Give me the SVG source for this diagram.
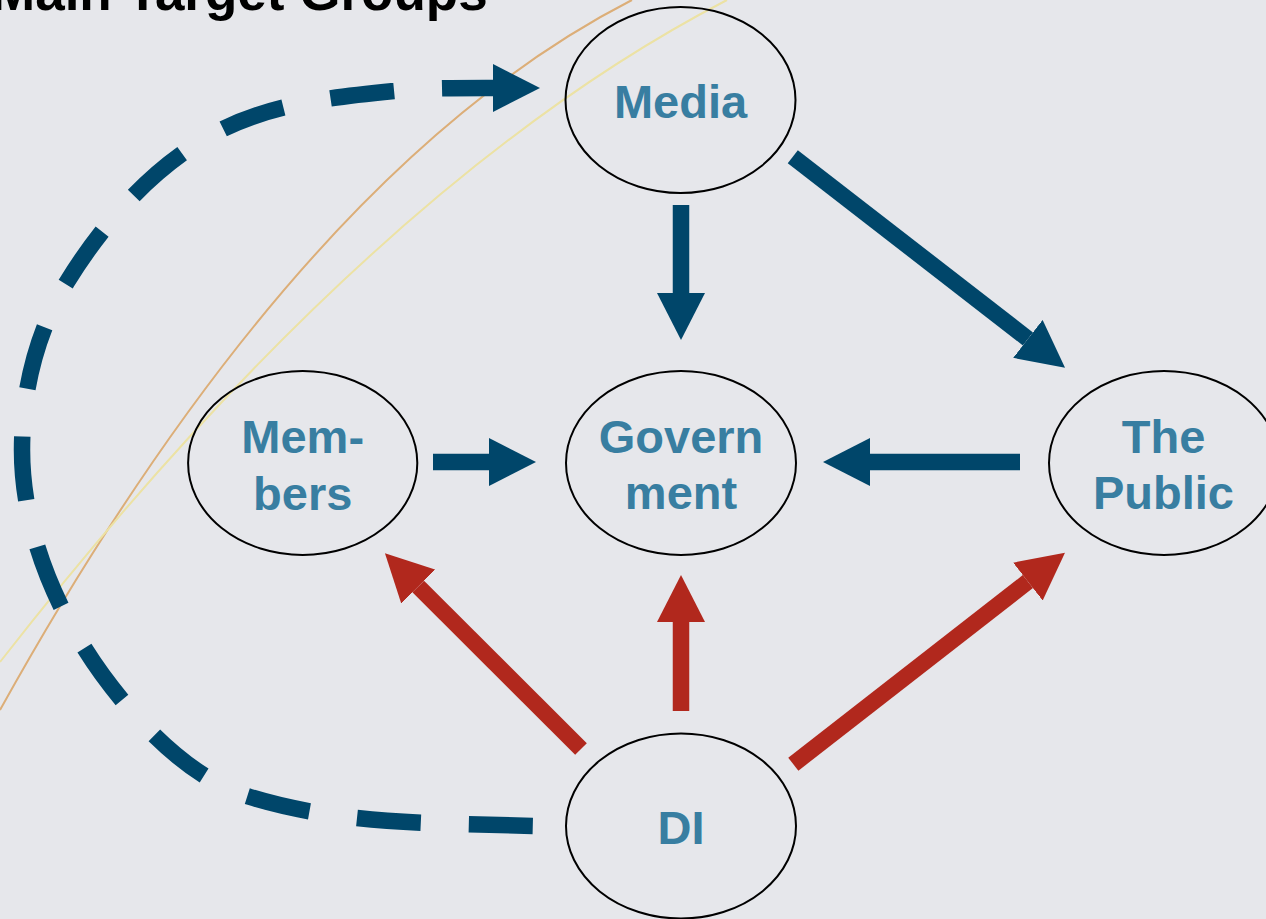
<svg xmlns="http://www.w3.org/2000/svg" width="1266" height="919" viewBox="0 0 1266 919">
  <style>
    .node ellipse { fill: none; stroke: #000; stroke-width: 2; }
    .node text { font-family: "Liberation Sans", Arial, sans-serif; font-weight: bold; font-size: 47px; fill: #387ea1; text-anchor: middle; }
    .title { font-family: "Liberation Sans", Arial, sans-serif; font-weight: bold; font-size: 53px; fill: #000; }
    .blue { stroke: #00466a; stroke-width: 16.5; fill: none; }
    .red { stroke: #b1281d; stroke-width: 16.5; fill: none; }
    .arc { fill: none; stroke-width: 2; }
  </style>
  <defs>
    <marker id="headBlue" markerUnits="userSpaceOnUse" viewBox="0 0 47 48" markerWidth="47" markerHeight="48" refX="0" refY="24" orient="auto-start-reverse">
      <path d="M0,0 L47,24 L0,48 Z" fill="#00466a"/>
    </marker>
    <marker id="headRed" markerUnits="userSpaceOnUse" viewBox="0 0 47 48" markerWidth="47" markerHeight="48" refX="0" refY="24" orient="auto">
      <path d="M0,0 L47,24 L0,48 Z" fill="#b1281d"/>
    </marker>
    <filter id="soft" x="-5%" y="-5%" width="110%" height="110%">
      <feGaussianBlur stdDeviation="0.6"/>
    </filter>
  </defs>

  <!-- background -->
  <rect x="0" y="0" width="1266" height="919" fill="#e6e7eb"/>

  <!-- decorative background arcs -->
  <g id="decor" filter="url(#soft)">
    <path class="arc" d="M632,0 Q300,170 0,710" stroke="#dcae78"/>
    <path class="arc" d="M727,0 Q375,182 0,662" stroke="#ece2a4"/>
  </g>

  <!-- heading -->
  <text class="title" x="-9" y="10">Main Target Groups</text>

  <!-- connectors -->
  <g id="connectors">
    <!-- DI to Media, dashed loop round the left side -->
    <path class="blue" stroke-dasharray="64 48" stroke-dashoffset="13" marker-start="url(#headBlue)"
          d="M493,88 C460,88 427,87.8 394,91 C335.3,96.8 273.7,103.4 221,130 C156.7,162.5 104.7,220.7 67,282 C36.6,331.4 22,392 22,450 C22,540 64.4,630.9 122,700 C156.2,741.1 198.9,781.2 250,797 C341.7,825.3 440,823 536,826"/>
    <line class="blue" x1="681" y1="205" x2="681" y2="293" marker-end="url(#headBlue)"/>
    <line class="blue" x1="792.8" y1="156.7" x2="1027.9" y2="338.9" marker-end="url(#headBlue)"/>
    <line class="blue" x1="433" y1="462" x2="489" y2="462" marker-end="url(#headBlue)"/>
    <line class="blue" x1="1020" y1="462" x2="870" y2="462" marker-end="url(#headBlue)"/>
    <line class="red" x1="581" y1="749" x2="418.2" y2="586.5" marker-end="url(#headRed)"/>
    <line class="red" x1="681" y1="711" x2="681" y2="622" marker-end="url(#headRed)"/>
    <line class="red" x1="793.3" y1="764.2" x2="1027.9" y2="581.6" marker-end="url(#headRed)"/>
  </g>

  <!-- nodes -->
  <g id="media" class="node">
    <ellipse cx="680.5" cy="100" rx="115" ry="93"/>
    <text x="680.5" y="118">Media</text>
  </g>
  <g id="members" class="node">
    <ellipse cx="302.7" cy="463" rx="114.6" ry="92"/>
    <text x="302.7" y="453">Mem-</text>
    <text x="302.7" y="510">bers</text>
  </g>
  <g id="government" class="node">
    <ellipse cx="681" cy="463" rx="115" ry="92"/>
    <text x="681" y="453">Govern</text>
    <text x="681" y="509">ment</text>
  </g>
  <g id="public" class="node">
    <ellipse cx="1164" cy="463" rx="115" ry="92"/>
    <text x="1163.5" y="453">The</text>
    <text x="1163.5" y="509">Public</text>
  </g>
  <g id="di" class="node">
    <ellipse cx="681" cy="826" rx="115" ry="92.5"/>
    <text x="681" y="844">DI</text>
  </g>
</svg>
